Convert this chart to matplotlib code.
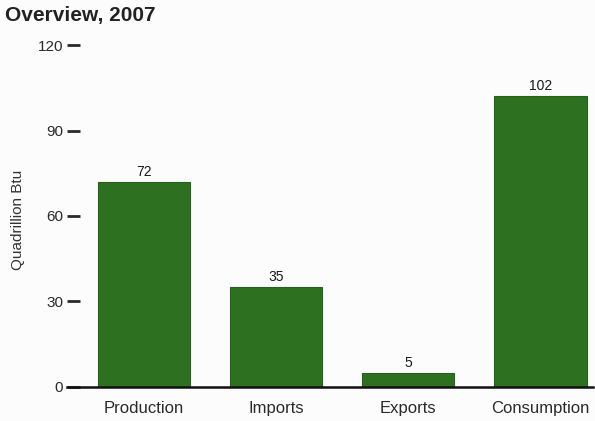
import matplotlib
matplotlib.use("Agg")
import matplotlib.pyplot as plt

plt.rcParams['font.family'] = ['Liberation Sans', 'DejaVu Sans']

categories = ["Production", "Imports", "Exports", "Consumption"]
values = [72, 35, 5, 102]
yticks = [0, 30, 60, 90, 120]

bar_color = "#2d7020"

fig = plt.figure(figsize=(5.95, 4.21), dpi=100)
fig.patch.set_facecolor("#fcfcfc")
ax = fig.add_axes([0.113, 0.081, 0.884, 0.812])
ax.set_facecolor("#fcfcfc")

x = range(len(categories))
bars = ax.bar(x, values, width=0.7, color=bar_color, edgecolor="#27601b", linewidth=0.8)
for b, v in zip(bars, values):
    ax.text(b.get_x() + b.get_width() / 2, v + 1.0, str(v),
            ha="center", va="bottom", fontsize=10, color="#1a1a1a")

ax.set_xlim(-0.58, 3.40)
ax.set_ylim(0, 120)
ax.set_yticks(yticks)
ax.set_xticks(list(x))
ax.set_xticklabels(categories, fontsize=12, color="#2a2a2a")
ax.tick_params(axis="x", length=0, pad=10)
ax.tick_params(axis="y", direction="in", length=9, width=2, pad=3,
               labelsize=11, colors="#2a2a2a")

for s in ["top", "right", "left"]:
    ax.spines[s].set_visible(False)
ax.spines["bottom"].set_linewidth(1.8)
ax.spines["bottom"].set_color("#111111")

ax.set_ylabel("Quadrillion Btu", fontsize=11, color="#333333")
ax.yaxis.set_label_coords(-0.08, 0.49)

fig.text(0.008, 0.962, "Overview, 2007", fontsize=15, fontweight="bold",
         color="#222222", ha="left", va="center")

fig.savefig("out.png", dpi=100, facecolor=fig.get_facecolor())
